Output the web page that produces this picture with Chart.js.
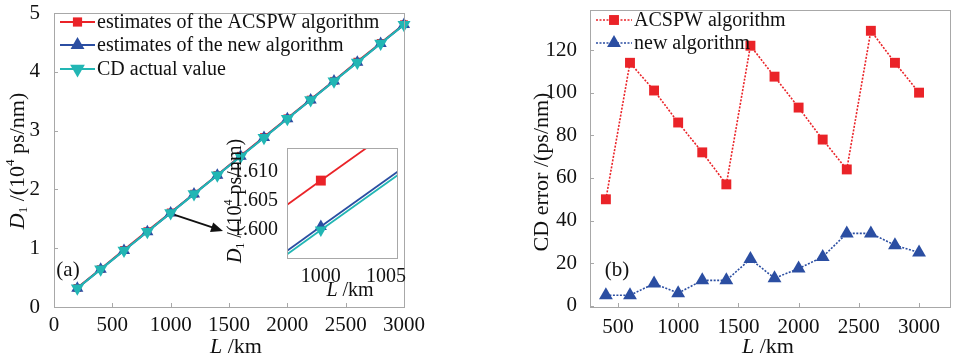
<!DOCTYPE html>
<html>
<head>
<meta charset="utf-8">
<script src="https://cdn.jsdelivr.net/npm/chart.js@4.4.0/dist/chart.umd.min.js"></script>
<style>
  html, body { margin: 0; padding: 0; background: #fff; }
  #wrap { position: relative; width: 958px; height: 358px; }
  canvas { position: absolute; left: 0; top: 0; }
</style>
</head>
<body>
<div id="wrap">
  <canvas id="chartA" width="958" height="358"></canvas>
  <canvas id="chartInset" width="958" height="358"></canvas>
  <canvas id="chartB" width="958" height="358"></canvas>
</div>
<script>
// panel (a): D1 in 10^4 ps/nm vs L in km
const distA = [200, 400, 600, 800, 1000, 1200, 1400, 1600, 1800, 2000, 2200, 2400, 2600, 2800, 3000];
const acspwEst = [0.3250, 0.6450, 0.9714, 1.2901, 1.6086, 1.9272, 2.2457, 2.5722, 2.8908, 3.2093, 3.5278, 3.8464, 4.1729, 4.4914, 4.8100];
const newEst = [0.3205, 0.6405, 0.9606, 1.2811, 1.6007, 1.9213, 2.2413, 2.5623, 2.8814, 3.2018, 3.5224, 3.8435, 4.1635, 4.4829, 4.8026];
const actualCD = [0.32, 0.64, 0.96, 1.28, 1.60, 1.92, 2.24, 2.56, 2.88, 3.20, 3.52, 3.84, 4.16, 4.48, 4.80];
const aXTicks = [0, 500, 1000, 1500, 2000, 2500, 3000];
const aYTicks = [0, 1, 2, 3, 4, 5];

// inset: zoom around L = 1000 km
const insetDist = [997, 1000, 1006];
const insetAcspw = [1.6037, 1.6085, 1.6181];
const insetNew = [1.5958, 1.6006, 1.6102];
const insetActual = [1.5952, 1.6000, 1.6096];
const insetXTicks = [1000, 1005];
const insetYTicks = [1.600, 1.605, 1.610];

// panel (b): CD error in ps/nm
const distB = [400, 600, 800, 1000, 1200, 1400, 1600, 1800, 2000, 2200, 2400, 2600, 2800, 3000];
const errAcspw = [50, 114, 101, 86, 72, 57, 122, 107.5, 93, 78, 64, 129, 114, 100];
const errNew = [5, 5, 10.5, 6, 12, 12, 22, 13, 17.5, 23, 34, 34, 28.5, 25];
const bXTicks = [500, 1000, 1500, 2000, 2500, 3000];
const bYTicks = [0, 20, 40, 60, 80, 100, 120];

const RED = '#ea2328';
const BLUE = '#2b4ea2';
const CYAN = '#22b6b4';
const FAM = '"Liberation Serif", "DejaVu Serif", serif';
const F = '20px ' + FAM;          // legend
const FT = '22px ' + FAM;         // axis titles
const FTI = 'italic 22px ' + FAM;
const FS = '13px ' + FAM;

Chart.defaults.font.family = FAM;
Chart.defaults.font.size = 21;
Chart.defaults.color = '#111';

function drawRich(ctx, parts, cx, cy, rot) {
  ctx.save();
  ctx.translate(cx, cy);
  if (rot) ctx.rotate(rot);
  let total = 0;
  parts.forEach(p => { ctx.font = p.font; p.w = ctx.measureText(p.t).width; total += p.w; });
  let x = -total / 2;
  ctx.textBaseline = 'middle';
  ctx.textAlign = 'left';
  ctx.fillStyle = '#111';
  parts.forEach(p => { ctx.font = p.font; ctx.fillText(p.t, x, p.dy || 0); x += p.w; });
  ctx.restore();
}

// box round the plot area plus small inward ticks
const frame = {
  id: 'frame',
  afterDraw(chart, args, opts) {
    const { ctx, chartArea: a } = chart;
    ctx.save();
    ctx.strokeStyle = '#a8a8a8';
    ctx.lineWidth = 1;
    ctx.strokeRect(Math.round(a.left) + 0.5, Math.round(a.top) + 0.5, Math.round(a.right - a.left), Math.round(a.bottom - a.top));
    if (opts.ticks) {
      ctx.beginPath();
      chart.scales.x.ticks.forEach(t => {
        const px = Math.round(chart.scales.x.getPixelForValue(t.value)) + 0.5;
        ctx.moveTo(px, a.bottom); ctx.lineTo(px, a.bottom - 4);
      });
      chart.scales.y.ticks.forEach(t => {
        const py = Math.round(chart.scales.y.getPixelForValue(t.value)) + 0.5;
        ctx.moveTo(a.left, py); ctx.lineTo(a.left + 4, py);
      });
      ctx.stroke();
    }
    ctx.restore();
  }
};

// legend drawn inside the plot area
const keyLegend = {
  id: 'keyLegend',
  afterDraw(chart, args, opts) {
    if (!opts.ys) return;
    const ctx = chart.ctx;
    chart.data.datasets.forEach((ds, i) => {
      const y = opts.ys[i];
      ctx.save();
      ctx.strokeStyle = ds.borderColor;
      ctx.lineWidth = ds.borderWidth;
      ctx.setLineDash(ds.borderDash || []);
      ctx.beginPath();
      ctx.moveTo(opts.x0, y); ctx.lineTo(opts.x1, y);
      ctx.stroke();
      ctx.setLineDash([]);
      ctx.fillStyle = ds.backgroundColor;
      Chart.helpers.drawPoint(ctx, {
        pointStyle: ds.pointStyle, rotation: ds.pointRotation || 0,
        radius: opts.radii[i], borderWidth: 0
      }, (opts.x0 + opts.x1) / 2, y);
      ctx.font = F;
      ctx.fillStyle = '#111';
      ctx.textBaseline = 'middle';
      ctx.textAlign = 'left';
      ctx.fillText(ds.label, opts.tx, y + 1);
      ctx.restore();
    });
  }
};

// axis titles, panel letters, arrow
const notes = {
  id: 'notes',
  afterDraw(chart, args, opts) {
    const ctx = chart.ctx;
    (opts.texts || []).forEach(t => drawRich(ctx, t.parts, t.x, t.y, t.rot));
    if (opts.arrow) {
      const ar = opts.arrow;
      const sx = chart.scales.x.getPixelForValue(ar.from[0]) + 4;
      const sy = chart.scales.y.getPixelForValue(ar.from[1]) + 2;
      const ex = ar.to[0], ey = ar.to[1];
      const ang = Math.atan2(ey - sy, ex - sx);
      ctx.save();
      ctx.strokeStyle = '#111';
      ctx.fillStyle = '#111';
      ctx.lineWidth = 1.8;
      ctx.beginPath();
      ctx.moveTo(sx, sy);
      ctx.lineTo(ex - 8 * Math.cos(ang), ey - 8 * Math.sin(ang));
      ctx.stroke();
      ctx.beginPath();
      ctx.moveTo(ex, ey);
      ctx.lineTo(ex - 12 * Math.cos(ang) + 5 * Math.sin(ang), ey - 12 * Math.sin(ang) - 5 * Math.cos(ang));
      ctx.lineTo(ex - 12 * Math.cos(ang) - 5 * Math.sin(ang), ey - 12 * Math.sin(ang) + 5 * Math.cos(ang));
      ctx.closePath();
      ctx.fill();
      ctx.restore();
    }
  }
};

function xAxis(min, max, tickList, h, pad, fmt, size) {
  return {
    type: 'linear', min: min, max: max,
    grid: { display: false }, border: { display: false },
    ticks: { padding: pad, maxRotation: 0, autoSkip: false, callback: fmt, font: { size: size || 21 } },
    afterBuildTicks: s => { s.ticks = tickList.map(v => ({ value: v })); },
    afterFit: s => { s.height = h; s.paddingLeft = 0; s.paddingRight = 0; }
  };
}
function yAxis(min, max, tickList, w, pad, fmt, size) {
  return {
    type: 'linear', min: min, max: max,
    grid: { display: false }, border: { display: false },
    ticks: { padding: pad, autoSkip: false, callback: fmt, font: { size: size || 21 } },
    afterBuildTicks: s => { s.ticks = tickList.map(v => ({ value: v })); },
    afterFit: s => { s.width = w; s.paddingTop = 0; s.paddingBottom = 0; }
  };
}
const plain = v => String(v);

// ---------- panel (a) ----------
new Chart(document.getElementById('chartA'), {
  type: 'line',
  data: {
    datasets: [
      { label: 'estimates of the ACSPW algorithm', data: distA.map((x, i) => ({ x: x, y: acspwEst[i] })),
        borderColor: RED, backgroundColor: RED, borderWidth: 2, pointStyle: 'rect',
        pointRadius: 5.5, pointBorderWidth: 0, clip: false, order: 3 },
      { label: 'estimates of the new algorithm', data: distA.map((x, i) => ({ x: x, y: newEst[i] })),
        borderColor: BLUE, backgroundColor: BLUE, borderWidth: 2, pointStyle: 'triangle',
        pointRadius: 7, pointBorderWidth: 0, clip: false, order: 2 },
      { label: 'CD actual value', data: distA.map((x, i) => ({ x: x, y: actualCD[i] })),
        borderColor: CYAN, backgroundColor: CYAN, borderWidth: 2, pointStyle: 'triangle', pointRotation: 180,
        pointRadius: 7.5, pointBorderWidth: 0, clip: false, order: 1 }
    ]
  },
  options: {
    responsive: false, animation: false, events: [],
    layout: { padding: { left: 0, top: 13, right: 554, bottom: 0 } },
    scales: {
      x: xAxis(0, 3000, aXTicks, 51, -2, plain),
      y: yAxis(0, 5, aYTicks, 54, 6, plain)
    },
    plugins: {
      legend: { display: false }, tooltip: { enabled: false },
      frame: { ticks: true },
      keyLegend: { x0: 60, x1: 95, tx: 97, ys: [22, 45, 69], radii: [6.5, 8, 8.5] },
      notes: {
        texts: [
          { parts: [{ t: 'D', font: FTI }, { t: '1', font: FS, dy: 6 }, { t: ' /(10', font: FT }, { t: '4', font: FS, dy: -7 }, { t: ' ps/nm)', font: FT }], x: 18, y: 161, rot: -Math.PI / 2 },
          { parts: [{ t: 'L', font: FTI }, { t: ' /km', font: FT }], x: 236, y: 347 },
          { parts: [{ t: '(a)', font: '21px ' + FAM }], x: 68, y: 270 }
        ],
        arrow: { from: [1000, 1.6], to: [223, 231] }
      }
    }
  },
  plugins: [frame, keyLegend, notes]
});

// ---------- inset of panel (a) ----------
const FI19 = 'italic 20px ' + FAM, F19 = '20px ' + FAM, FS19 = '12px ' + FAM;
new Chart(document.getElementById('chartInset'), {
  type: 'line',
  data: {
    datasets: [
      { label: 'ACSPW', data: insetDist.map((x, i) => ({ x: x, y: insetAcspw[i] })),
        borderColor: RED, backgroundColor: RED, borderWidth: 1.8, pointStyle: 'rect',
        pointRadius: insetDist.map(x => x === 1000 ? 7 : 0), pointBorderWidth: 0, order: 3 },
      { label: 'new', data: insetDist.map((x, i) => ({ x: x, y: insetNew[i] })),
        borderColor: BLUE, backgroundColor: BLUE, borderWidth: 1.8, pointStyle: 'triangle',
        pointRadius: insetDist.map(x => x === 1000 ? 7 : 0), pointBorderWidth: 0, order: 2 },
      { label: 'actual', data: insetDist.map((x, i) => ({ x: x, y: insetActual[i] })),
        borderColor: CYAN, backgroundColor: CYAN, borderWidth: 1.8, pointStyle: 'triangle', pointRotation: 180,
        pointRadius: insetDist.map(x => x === 1000 ? 7 : 0), pointBorderWidth: 0, order: 1 }
    ]
  },
  options: {
    responsive: false, animation: false, events: [],
    layout: { padding: { left: 237, top: 148, right: 561, bottom: 70 } },
    scales: {
      x: xAxis(997.4, 1005.85, insetXTicks, 30, -1, plain, 20),
      y: yAxis(1.5952, 1.6141, insetYTicks, 50, 1, v => v.toFixed(3), 20)
    },
    plugins: {
      legend: { display: false }, tooltip: { enabled: false },
      frame: { ticks: false },
      notes: {
        texts: [
          { parts: [{ t: 'D', font: FI19 }, { t: '1', font: FS19, dy: 5 }, { t: ' /(10', font: F19 }, { t: '4', font: FS19, dy: -7 }, { t: ' ps/nm)', font: F19 }], x: 236, y: 201, rot: -Math.PI / 2 },
          { parts: [{ t: 'L', font: FI19 }, { t: ' /km', font: F19 }], x: 350, y: 291 }
        ]
      }
    }
  },
  plugins: [frame, notes]
});

// ---------- panel (b) ----------
new Chart(document.getElementById('chartB'), {
  type: 'line',
  data: {
    datasets: [
      { label: 'ACSPW algorithm', data: distB.map((x, i) => ({ x: x, y: errAcspw[i] })),
        borderColor: RED, backgroundColor: RED, borderWidth: 1.6, borderDash: [2, 1.5], pointStyle: 'rect',
        pointRadius: 7, pointBorderWidth: 0, clip: false },
      { label: 'new algorithm', data: distB.map((x, i) => ({ x: x, y: errNew[i] })),
        borderColor: BLUE, backgroundColor: BLUE, borderWidth: 1.6, borderDash: [2, 1.5], pointStyle: 'triangle',
        pointRadius: 8, pointBorderWidth: 0, clip: false }
    ]
  },
  options: {
    responsive: false, animation: false, events: [],
    layout: { padding: { left: 530, top: 10, right: 4, bottom: 0 } },
    scales: {
      x: xAxis(268, 3257, bXTicks, 51, 0, plain),
      y: yAxis(-0.5, 138.75, bYTicks, 60, 5, plain)
    },
    plugins: {
      legend: { display: false }, tooltip: { enabled: false },
      frame: { ticks: true },
      keyLegend: { x0: 596, x1: 632, tx: 634, ys: [20, 43], radii: [7, 8] },
      notes: {
        texts: [
          { parts: [{ t: 'CD error /(ps/nm)', font: FT }], x: 542, y: 172, rot: -Math.PI / 2 },
          { parts: [{ t: 'L', font: FTI }, { t: ' /km', font: FT }], x: 768, y: 347 },
          { parts: [{ t: '(b)', font: '21px ' + FAM }], x: 617, y: 270 }
        ]
      }
    }
  },
  plugins: [frame, keyLegend, notes]
});
</script>
</body>
</html>
